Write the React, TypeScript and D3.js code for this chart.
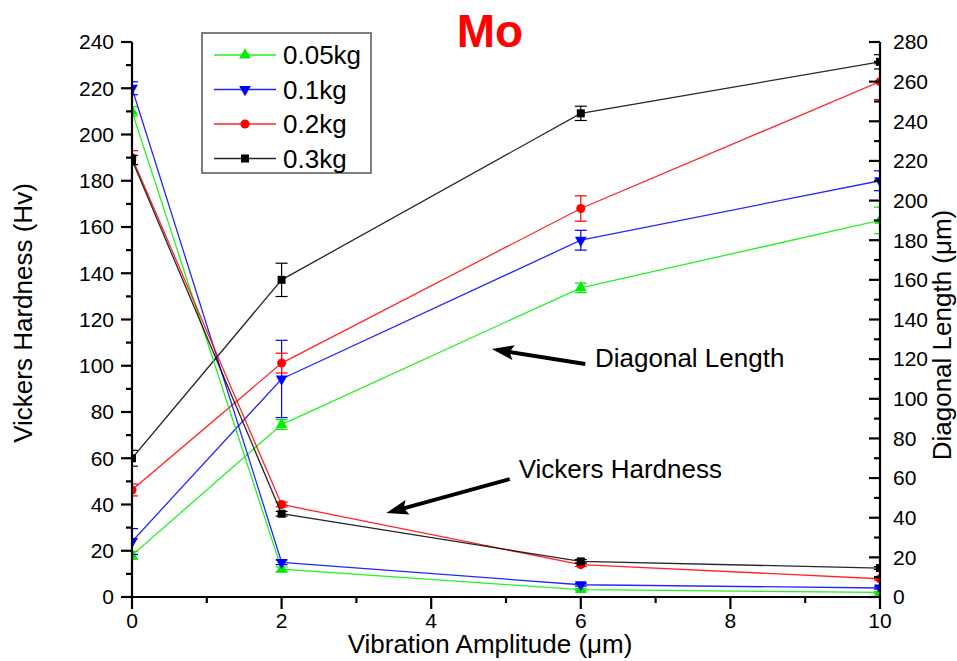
import React from 'react';
import * as d3 from 'd3';

// x positions
const amplitudes = [0, 2, 6, 10];

// Vickers hardness (left axis, Hv)
const hardness005 = [210, 12, 3.2, 2.0];
const hardness01 = [220, 15, 5.3, 3.9];
const hardness02 = [190, 40, 14.0, 7.9];
const hardness03 = [189, 36, 15.4, 12.5];
const hardnessErr005 = [2, 1, 0.5, 0.4];
const hardnessErr01 = [2.8, 1, 0.6, 0.5];
const hardnessErr02 = [3, 1, 0.8, 0.6];
const hardnessErr03 = [2, 1, 0.8, 0.6];

// Diagonal length (right axis, um)
const diag005 = [21, 87, 156, 190];
const diag01 = [28, 110, 180, 210];
const diag02 = [54, 118, 196, 260];
const diag03 = [70, 160, 244, 270];
const diagErr005 = [2, 2.5, 2.4, 6.7];
const diagErr01 = [6.5, 19.5, 5, 5];
const diagErr02 = [3, 5, 6.4, 9];
const diagErr03 = [4, 8.4, 3.6, 3.6];

const seriesNames = ['0.05kg', '0.1kg', '0.2kg', '0.3kg'];
const seriesColors = ['#00ee00', '#0000ff', '#ff0000', '#000000'];
const seriesShapes = ['up', 'down', 'circle', 'square'];

const leftTicks = d3.range(0, 241, 20);
const rightTicks = d3.range(0, 281, 20);
const xTicks = [0, 2, 4, 6, 8, 10];

const FONT = '"Liberation Sans", Arial, sans-serif';

const Marker = ({ shape, x, y, color }) => {
  if (shape === 'circle') return <circle cx={x} cy={y} r={4.5} fill={color} />;
  if (shape === 'square') return <rect x={x - 4} y={y - 4} width={8} height={8} fill={color} />;
  const tri = d3.symbol().type(d3.symbolTriangle).size(60)();
  const rot = shape === 'down' ? 180 : 0;
  return <path d={tri} transform={`translate(${x},${y}) rotate(${rot})`} fill={color} />;
};

const Arrow = ({ x1, y1, x2, y2 }) => {
  // tail (x1,y1) -> tip (x2,y2)
  const ang = Math.atan2(y2 - y1, x2 - x1);
  const len = 22;
  const hw = 7.5;
  const bx = x2 - len * Math.cos(ang);
  const by = y2 - len * Math.sin(ang);
  const px = -Math.sin(ang);
  const py = Math.cos(ang);
  const head = `M${x2},${y2}L${bx + hw * px},${by + hw * py}L${bx + 4 * Math.cos(ang)},${by + 4 * Math.sin(ang)}L${bx - hw * px},${by - hw * py}Z`;
  return (
    <g>
      <line x1={x1} y1={y1} x2={bx + 6 * Math.cos(ang)} y2={by + 6 * Math.sin(ang)} stroke="#000" strokeWidth={4} />
      <path d={head} fill="#000" />
    </g>
  );
};

export default function App() {
  const width = 957;
  const height = 661;
  const left = 132;
  const right = 880;
  const top = 42;
  const bottom = 597;

  const x = d3.scaleLinear().domain([0, 10]).range([left, right]);
  const yL = d3.scaleLinear().domain([0, 240]).range([bottom, top]);
  const yR = d3.scaleLinear().domain([0, 280]).range([bottom, top]);

  const hardness = [hardness005, hardness01, hardness02, hardness03];
  const hardnessErr = [hardnessErr005, hardnessErr01, hardnessErr02, hardnessErr03];
  const diag = [diag005, diag01, diag02, diag03];
  const diagErr = [diagErr005, diagErr01, diagErr02, diagErr03];

  const drawSeries = (vals, errs, scale, i, key) => {
    const line = d3.line().x((d, j) => x(amplitudes[j])).y((d) => scale(d));
    const color = seriesColors[i];
    return (
      <g key={key}>
        <path d={line(vals)} fill="none" stroke={color} strokeWidth={1.3} opacity={0.85} />
        {vals.map((v, j) => {
          const cx = x(amplitudes[j]);
          const yt = scale(v + errs[j]);
          const yb = scale(v - errs[j]);
          return (
            <g key={j} stroke={color} strokeWidth={1.2}>
              <line x1={cx} x2={cx} y1={yt} y2={yb} />
              <line x1={cx - 6} x2={cx + 6} y1={yt} y2={yt} />
              <line x1={cx - 6} x2={cx + 6} y1={yb} y2={yb} />
            </g>
          );
        })}
        {vals.map((v, j) => (
          <Marker key={'m' + j} shape={seriesShapes[i]} x={x(amplitudes[j])} y={scale(v)} color={color} />
        ))}
      </g>
    );
  };

  const leftMinor = d3.range(10, 240, 20);
  const rightMinor = d3.range(10, 280, 20);
  const xMinor = d3.range(1, 10, 2);

  return (
    <svg width={width} height={height} style={{ position: 'absolute', left: 0, top: 0, background: '#fff' }} fontFamily={FONT}>
      <defs>
        <clipPath id="plot">
          <rect x={left} y={0} width={right - left} height={bottom} />
        </clipPath>
      </defs>

      {/* title */}
      <text x={490} y={47} textAnchor="middle" fontSize={46} fontWeight="bold" fill="#ff0000">Mo</text>

      {/* data */}
      <g clipPath="url(#plot)">
        {diag.map((vals, i) => drawSeries(vals, diagErr[i], yR, i, 'd' + i))}
        {hardness.map((vals, i) => drawSeries(vals, hardnessErr[i], yL, i, 'h' + i))}
      </g>

      {/* axes */}
      <g stroke="#000" strokeWidth={2.2}>
        <line x1={left} x2={left} y1={top} y2={bottom + 1} />
        <line x1={right} x2={right} y1={top} y2={bottom + 1} />
        <line x1={left} x2={right} y1={bottom} y2={bottom} />
        {leftTicks.map((t) => <line key={'lt' + t} x1={left - 11} x2={left} y1={yL(t)} y2={yL(t)} />)}
        {leftMinor.map((t) => <line key={'lm' + t} x1={left - 6} x2={left} y1={yL(t)} y2={yL(t)} />)}
        {rightTicks.map((t) => <line key={'rt' + t} x1={right - 11} x2={right} y1={yR(t)} y2={yR(t)} />)}
        {rightMinor.map((t) => <line key={'rm' + t} x1={right - 6} x2={right} y1={yR(t)} y2={yR(t)} />)}
        {xTicks.map((t) => <line key={'xt' + t} x1={x(t)} x2={x(t)} y1={bottom} y2={bottom + 12} />)}
        {xMinor.map((t) => <line key={'xm' + t} x1={x(t)} x2={x(t)} y1={bottom} y2={bottom + 6} />)}
      </g>

      {/* tick labels */}
      <g fontSize={21} fill="#000">
        {leftTicks.map((t) => (
          <text key={'ll' + t} x={left - 18} y={yL(t)} dy="0.35em" textAnchor="end">{t}</text>
        ))}
        {rightTicks.map((t) => (
          <text key={'rl' + t} x={right + 13} y={yR(t)} dy="0.35em" textAnchor="start">{t}</text>
        ))}
        {xTicks.map((t) => (
          <text key={'xl' + t} x={x(t)} y={628} textAnchor="middle">{t}</text>
        ))}
      </g>

      {/* axis titles */}
      <text x={490} y={653} textAnchor="middle" fontSize={26}>Vibration Amplitude (μm)</text>
      <text transform="translate(23,313) rotate(-90)" textAnchor="middle" dy="0.35em" fontSize={26}>Vickers Hardness (Hv)</text>
      <text transform="translate(942,335) rotate(-90)" textAnchor="middle" dy="0.35em" fontSize={26}>Diagonal Length (μm)</text>

      {/* annotations */}
      <Arrow x1={x(6.06)} y1={yL(100.8)} x2={x(4.81)} y2={yL(107.2)} />
      <text x={x(6.19)} y={yL(99.5)} fontSize={26}>Diagonal Length</text>
      <Arrow x1={x(5.05)} y1={yL(51)} x2={x(3.4)} y2={yL(36.3)} />
      <text x={x(5.17)} y={yL(51.5)} fontSize={26}>Vickers Hardness</text>

      {/* legend */}
      <g>
        <rect x={202} y={33} width={169} height={140} fill="#fff" stroke="#555" strokeWidth={1.5} />
        {seriesNames.map((name, i) => {
          const ly = 55 + i * 34.5;
          return (
            <g key={name}>
              <line x1={214} x2={276} y1={ly} y2={ly} stroke={seriesColors[i]} strokeWidth={1.3} opacity={0.85} />
              <Marker shape={seriesShapes[i]} x={245} y={ly} color={seriesColors[i]} />
              <text x={283} y={ly} dy="0.35em" fontSize={26}>{name}</text>
            </g>
          );
        })}
      </g>
    </svg>
  );
}
